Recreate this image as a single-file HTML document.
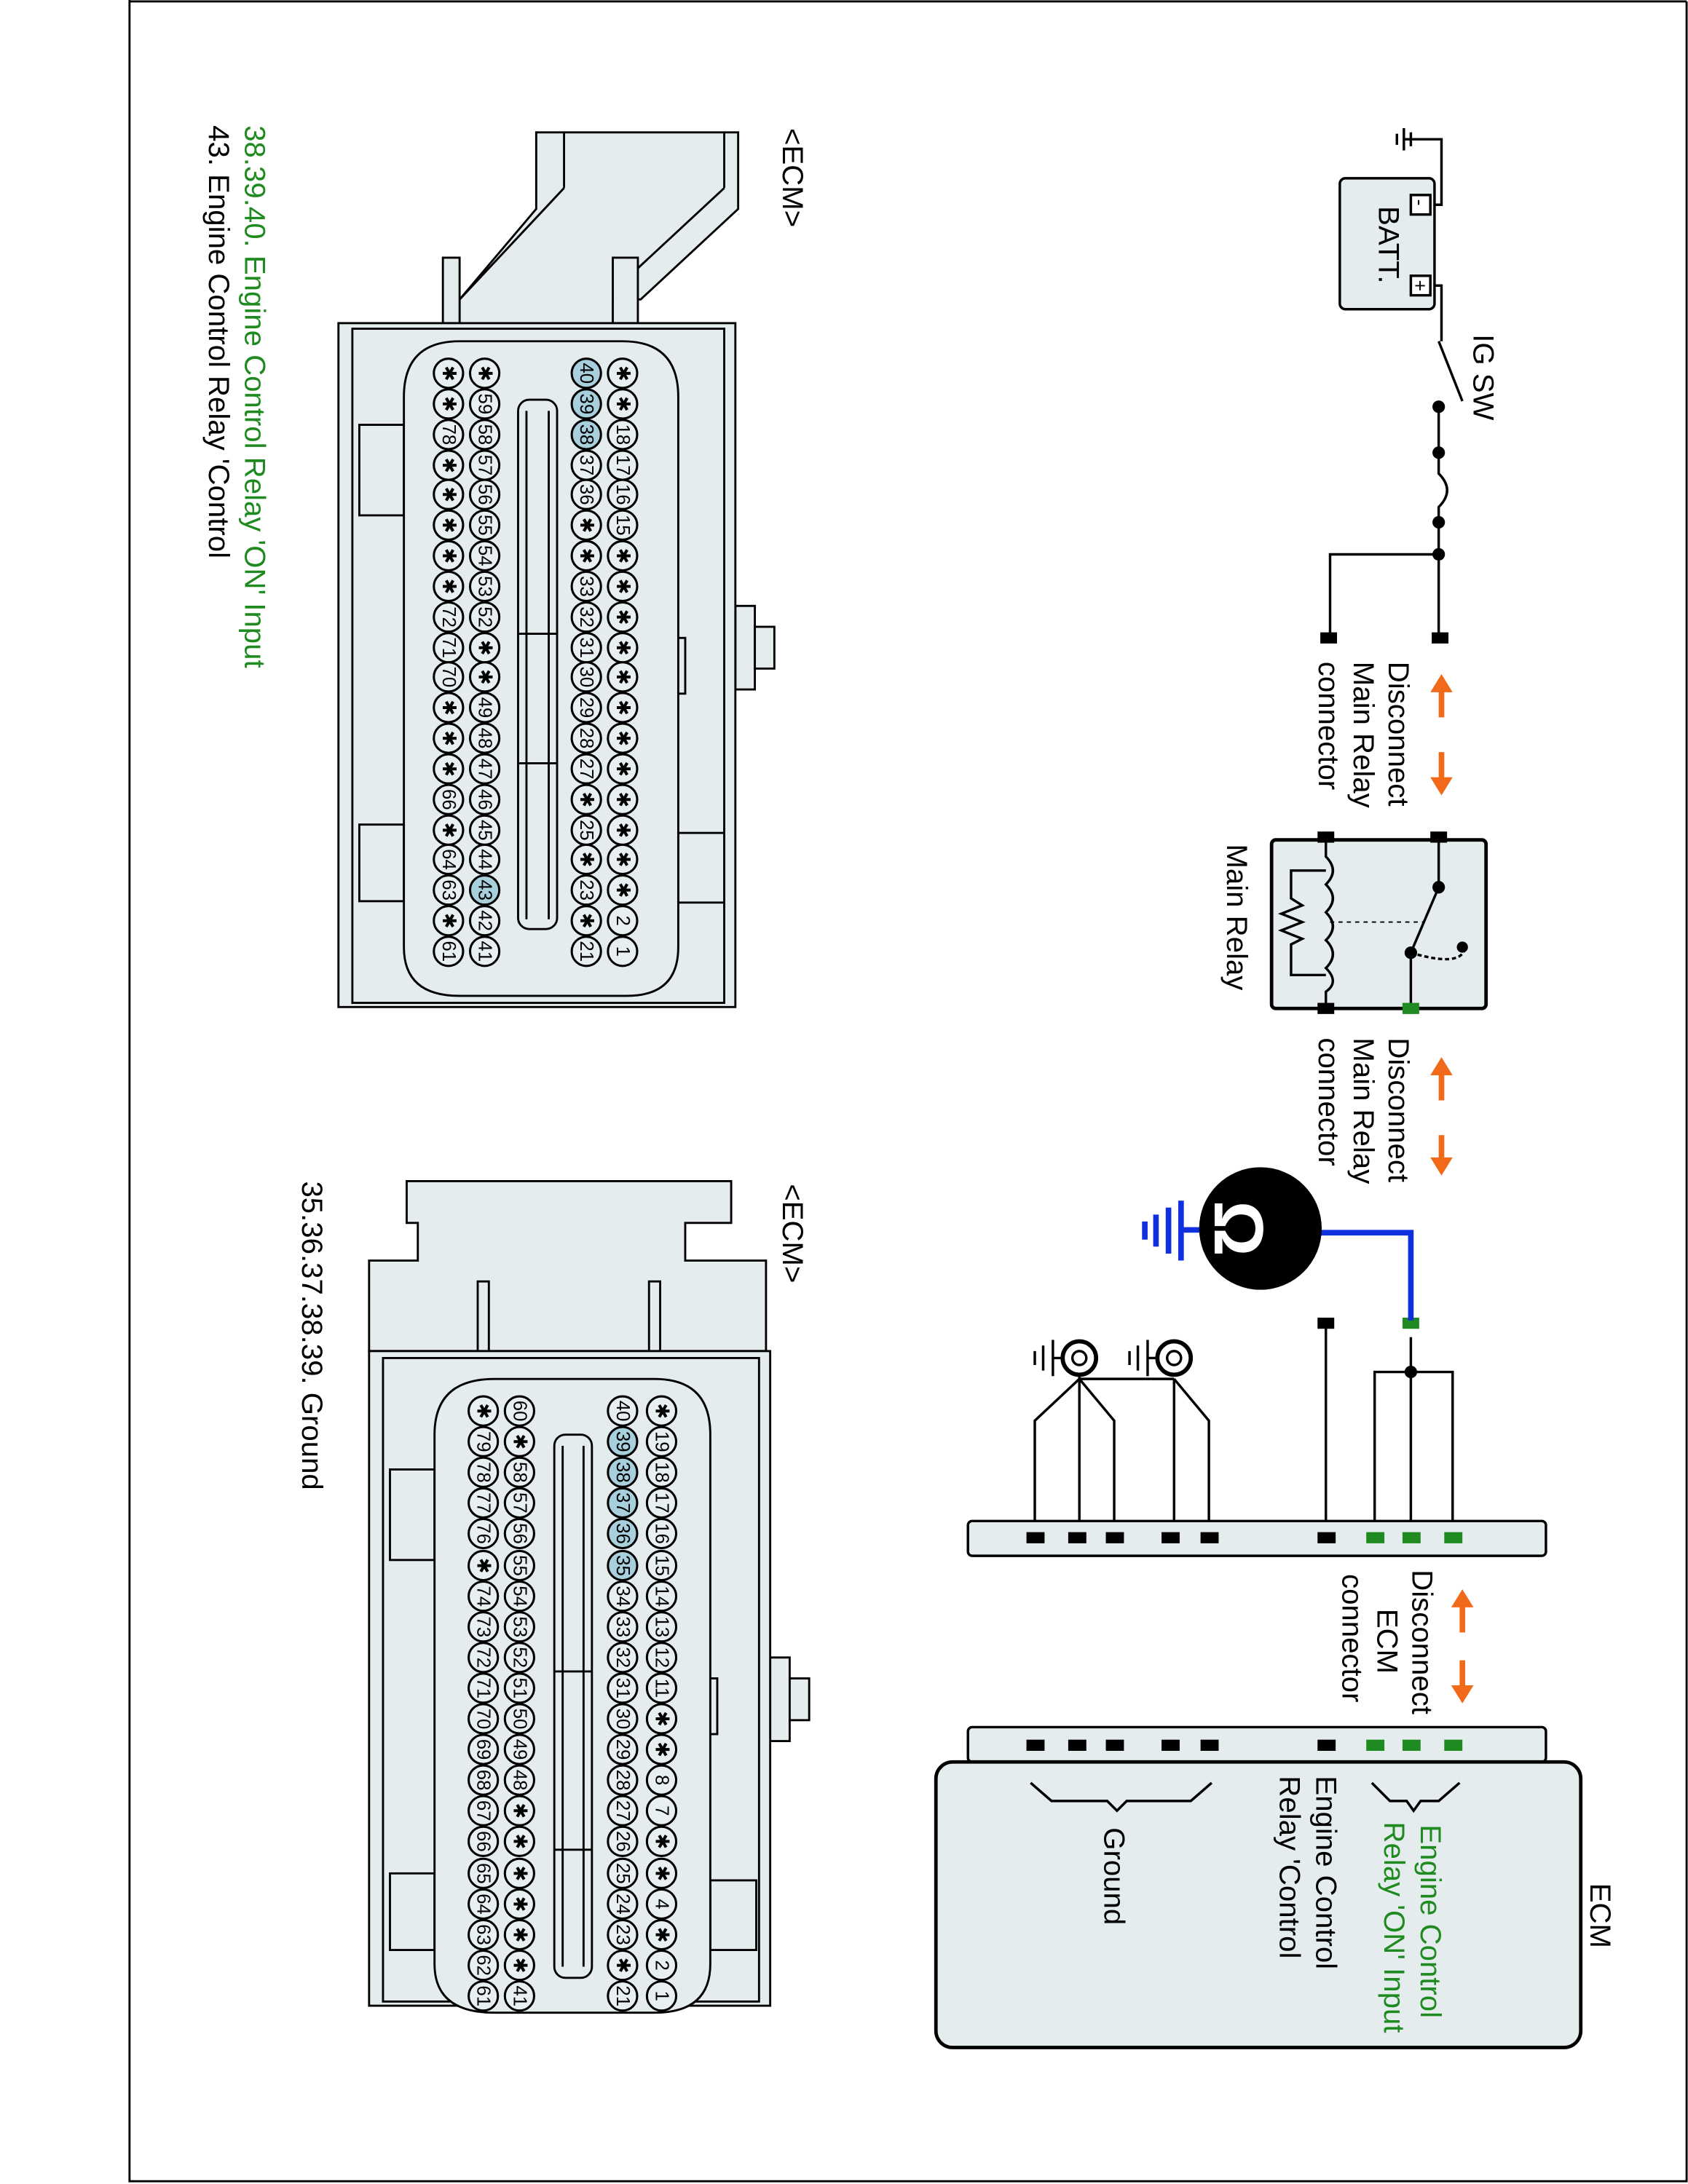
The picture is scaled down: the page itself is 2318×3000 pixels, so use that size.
<!DOCTYPE html>
<html><head><meta charset="utf-8"><style>
html,body{margin:0;padding:0;background:#fff}
svg{display:block}
text{font-family:"Liberation Sans",Arial,sans-serif}
.p circle{fill:#e8eff1;stroke:#000;stroke-width:1.6}
.p circle.h{fill:#a8d0dc}
.p text{font-size:13.5px;text-anchor:middle;dominant-baseline:central}
.l{font-size:21px}
.g{fill:#1f8a1f}
</style></head><body>
<svg width="2318" height="3000" viewBox="0 0 1212 1568" preserveAspectRatio="none" xmlns="http://www.w3.org/2000/svg">
<rect x="0" y="0" width="1212" height="1568" fill="#fff"/>
<path d="M93 0V1566H1211V1" fill="none" stroke="#000" stroke-width="1.5"/>
<line x1="93" y1="1" x2="1211" y2="1" stroke="#000" stroke-width="1.5"/>

<g stroke="#000" stroke-width="1.5" fill="#e4ecee">
 <polygon points="385,95 530,95 530,150 460,215 440,215 440,232 330,232 330,215 385,150"/>
 <line x1="405" y1="95" x2="405" y2="135"/><line x1="520" y1="95" x2="520" y2="135"/>
 <line x1="405" y1="135" x2="330" y2="215" fill="none"/><line x1="520" y1="135" x2="450" y2="200"/>
 <rect x="318" y="185" width="12" height="47"/><rect x="440" y="185" width="18" height="47"/>
 <rect x="528" y="435" width="14" height="60"/><rect x="542" y="450" width="14" height="30"/>
 <rect x="243" y="232" width="285" height="491"/>
 <rect x="253" y="236" width="267" height="484" fill="none"/>
 <rect x="258" y="305" width="32" height="65"/><rect x="258" y="592" width="32" height="55"/>
 <rect x="487" y="598" width="33" height="50"/><rect x="480" y="458" width="12" height="40"/>
 <path d="M290 285 Q290 245 330 245 H447 Q487 245 487 285 V680 Q487 715 450 715 H330 Q290 715 290 680 Z"/>
 <rect x="372" y="287" width="28" height="380" rx="8"/>
 <line x1="372" y1="455" x2="400" y2="455"/><line x1="372" y1="548" x2="400" y2="548"/>
 <line x1="378" y1="295" x2="378" y2="660" fill="none"/><line x1="394" y1="295" x2="394" y2="660"/>
</g>
<g class="p">
 <g transform="translate(447,0)">
  <circle cy="268" r="10.5"/><text transform="translate(0,268) rotate(90)">✱</text>
  <circle cy="290" r="10.5"/><text transform="translate(0,290) rotate(90)">✱</text>
  <circle cy="312" r="10.5"/><text transform="translate(0,312) rotate(90)">18</text>
  <circle cy="334" r="10.5"/><text transform="translate(0,334) rotate(90)">17</text>
  <circle cy="355" r="10.5"/><text transform="translate(0,355) rotate(90)">16</text>
  <circle cy="377" r="10.5"/><text transform="translate(0,377) rotate(90)">15</text>
  <circle cy="399" r="10.5"/><text transform="translate(0,399) rotate(90)">✱</text>
  <circle cy="421" r="10.5"/><text transform="translate(0,421) rotate(90)">✱</text>
  <circle cy="443" r="10.5"/><text transform="translate(0,443) rotate(90)">✱</text>
  <circle cy="465" r="10.5"/><text transform="translate(0,465) rotate(90)">✱</text>
  <circle cy="486" r="10.5"/><text transform="translate(0,486) rotate(90)">✱</text>
  <circle cy="508" r="10.5"/><text transform="translate(0,508) rotate(90)">✱</text>
  <circle cy="530" r="10.5"/><text transform="translate(0,530) rotate(90)">✱</text>
  <circle cy="552" r="10.5"/><text transform="translate(0,552) rotate(90)">✱</text>
  <circle cy="574" r="10.5"/><text transform="translate(0,574) rotate(90)">✱</text>
  <circle cy="596" r="10.5"/><text transform="translate(0,596) rotate(90)">✱</text>
  <circle cy="617" r="10.5"/><text transform="translate(0,617) rotate(90)">✱</text>
  <circle cy="639" r="10.5"/><text transform="translate(0,639) rotate(90)">✱</text>
  <circle cy="661" r="10.5"/><text transform="translate(0,661) rotate(90)">2</text>
  <circle cy="683" r="10.5"/><text transform="translate(0,683) rotate(90)">1</text>
 </g>
 <g transform="translate(421,0)">
  <circle class="h" cy="268" r="10.5"/><text transform="translate(0,268) rotate(90)">40</text>
  <circle class="h" cy="290" r="10.5"/><text transform="translate(0,290) rotate(90)">39</text>
  <circle class="h" cy="312" r="10.5"/><text transform="translate(0,312) rotate(90)">38</text>
  <circle cy="334" r="10.5"/><text transform="translate(0,334) rotate(90)">37</text>
  <circle cy="355" r="10.5"/><text transform="translate(0,355) rotate(90)">36</text>
  <circle cy="377" r="10.5"/><text transform="translate(0,377) rotate(90)">✱</text>
  <circle cy="399" r="10.5"/><text transform="translate(0,399) rotate(90)">✱</text>
  <circle cy="421" r="10.5"/><text transform="translate(0,421) rotate(90)">33</text>
  <circle cy="443" r="10.5"/><text transform="translate(0,443) rotate(90)">32</text>
  <circle cy="465" r="10.5"/><text transform="translate(0,465) rotate(90)">31</text>
  <circle cy="486" r="10.5"/><text transform="translate(0,486) rotate(90)">30</text>
  <circle cy="508" r="10.5"/><text transform="translate(0,508) rotate(90)">29</text>
  <circle cy="530" r="10.5"/><text transform="translate(0,530) rotate(90)">28</text>
  <circle cy="552" r="10.5"/><text transform="translate(0,552) rotate(90)">27</text>
  <circle cy="574" r="10.5"/><text transform="translate(0,574) rotate(90)">✱</text>
  <circle cy="596" r="10.5"/><text transform="translate(0,596) rotate(90)">25</text>
  <circle cy="617" r="10.5"/><text transform="translate(0,617) rotate(90)">✱</text>
  <circle cy="639" r="10.5"/><text transform="translate(0,639) rotate(90)">23</text>
  <circle cy="661" r="10.5"/><text transform="translate(0,661) rotate(90)">✱</text>
  <circle cy="683" r="10.5"/><text transform="translate(0,683) rotate(90)">21</text>
 </g>
 <g transform="translate(348,0)">
  <circle cy="268" r="10.5"/><text transform="translate(0,268) rotate(90)">✱</text>
  <circle cy="290" r="10.5"/><text transform="translate(0,290) rotate(90)">59</text>
  <circle cy="312" r="10.5"/><text transform="translate(0,312) rotate(90)">58</text>
  <circle cy="334" r="10.5"/><text transform="translate(0,334) rotate(90)">57</text>
  <circle cy="355" r="10.5"/><text transform="translate(0,355) rotate(90)">56</text>
  <circle cy="377" r="10.5"/><text transform="translate(0,377) rotate(90)">55</text>
  <circle cy="399" r="10.5"/><text transform="translate(0,399) rotate(90)">54</text>
  <circle cy="421" r="10.5"/><text transform="translate(0,421) rotate(90)">53</text>
  <circle cy="443" r="10.5"/><text transform="translate(0,443) rotate(90)">52</text>
  <circle cy="465" r="10.5"/><text transform="translate(0,465) rotate(90)">✱</text>
  <circle cy="486" r="10.5"/><text transform="translate(0,486) rotate(90)">✱</text>
  <circle cy="508" r="10.5"/><text transform="translate(0,508) rotate(90)">49</text>
  <circle cy="530" r="10.5"/><text transform="translate(0,530) rotate(90)">48</text>
  <circle cy="552" r="10.5"/><text transform="translate(0,552) rotate(90)">47</text>
  <circle cy="574" r="10.5"/><text transform="translate(0,574) rotate(90)">46</text>
  <circle cy="596" r="10.5"/><text transform="translate(0,596) rotate(90)">45</text>
  <circle cy="617" r="10.5"/><text transform="translate(0,617) rotate(90)">44</text>
  <circle class="h" cy="639" r="10.5"/><text transform="translate(0,639) rotate(90)">43</text>
  <circle cy="661" r="10.5"/><text transform="translate(0,661) rotate(90)">42</text>
  <circle cy="683" r="10.5"/><text transform="translate(0,683) rotate(90)">41</text>
 </g>
 <g transform="translate(322,0)">
  <circle cy="268" r="10.5"/><text transform="translate(0,268) rotate(90)">✱</text>
  <circle cy="290" r="10.5"/><text transform="translate(0,290) rotate(90)">✱</text>
  <circle cy="312" r="10.5"/><text transform="translate(0,312) rotate(90)">78</text>
  <circle cy="334" r="10.5"/><text transform="translate(0,334) rotate(90)">✱</text>
  <circle cy="355" r="10.5"/><text transform="translate(0,355) rotate(90)">✱</text>
  <circle cy="377" r="10.5"/><text transform="translate(0,377) rotate(90)">✱</text>
  <circle cy="399" r="10.5"/><text transform="translate(0,399) rotate(90)">✱</text>
  <circle cy="421" r="10.5"/><text transform="translate(0,421) rotate(90)">✱</text>
  <circle cy="443" r="10.5"/><text transform="translate(0,443) rotate(90)">72</text>
  <circle cy="465" r="10.5"/><text transform="translate(0,465) rotate(90)">71</text>
  <circle cy="486" r="10.5"/><text transform="translate(0,486) rotate(90)">70</text>
  <circle cy="508" r="10.5"/><text transform="translate(0,508) rotate(90)">✱</text>
  <circle cy="530" r="10.5"/><text transform="translate(0,530) rotate(90)">✱</text>
  <circle cy="552" r="10.5"/><text transform="translate(0,552) rotate(90)">✱</text>
  <circle cy="574" r="10.5"/><text transform="translate(0,574) rotate(90)">66</text>
  <circle cy="596" r="10.5"/><text transform="translate(0,596) rotate(90)">✱</text>
  <circle cy="617" r="10.5"/><text transform="translate(0,617) rotate(90)">64</text>
  <circle cy="639" r="10.5"/><text transform="translate(0,639) rotate(90)">63</text>
  <circle cy="661" r="10.5"/><text transform="translate(0,661) rotate(90)">✱</text>
  <circle cy="683" r="10.5"/><text transform="translate(0,683) rotate(90)">61</text>
 </g>
</g>

<g stroke="#000" stroke-width="1.5" fill="#e4ecee">
 <polygon points="292,848 525,848 525,878 492,878 492,905 550,905 550,970 265,970 265,905 300,905 300,878 292,878"/>
 <rect x="343" y="920" width="8" height="50"/><rect x="466" y="920" width="8" height="50"/>
 <rect x="553" y="1190" width="14" height="60"/><rect x="567" y="1205" width="14" height="30"/>
 <rect x="265" y="970" width="288" height="470"/>
 <rect x="275" y="975" width="270" height="462" fill="none"/>
 <rect x="280" y="1055" width="32" height="65"/><rect x="280" y="1345" width="32" height="55"/>
 <rect x="510" y="1350" width="33" height="50"/><rect x="503" y="1205" width="12" height="40"/>
 <path d="M312 1030 Q312 990 355 990 H470 Q510 990 510 1030 V1410 Q510 1445 470 1445 H355 Q312 1445 312 1410 Z"/>
 <rect x="398" y="1030" width="27" height="390" rx="8"/>
 <line x1="398" y1="1200" x2="425" y2="1200"/><line x1="398" y1="1328" x2="425" y2="1328"/>
 <line x1="404" y1="1038" x2="404" y2="1412"/><line x1="419" y1="1038" x2="419" y2="1412"/>
</g>
<g class="p">
 <g transform="translate(475,0)">
  <circle cy="1013" r="10.5"/><text transform="translate(0,1013) rotate(90)">✱</text>
  <circle cy="1035" r="10.5"/><text transform="translate(0,1035) rotate(90)">19</text>
  <circle cy="1057" r="10.5"/><text transform="translate(0,1057) rotate(90)">18</text>
  <circle cy="1079" r="10.5"/><text transform="translate(0,1079) rotate(90)">17</text>
  <circle cy="1101" r="10.5"/><text transform="translate(0,1101) rotate(90)">16</text>
  <circle cy="1124" r="10.5"/><text transform="translate(0,1124) rotate(90)">15</text>
  <circle cy="1146" r="10.5"/><text transform="translate(0,1146) rotate(90)">14</text>
  <circle cy="1168" r="10.5"/><text transform="translate(0,1168) rotate(90)">13</text>
  <circle cy="1190" r="10.5"/><text transform="translate(0,1190) rotate(90)">12</text>
  <circle cy="1212" r="10.5"/><text transform="translate(0,1212) rotate(90)">11</text>
  <circle cy="1234" r="10.5"/><text transform="translate(0,1234) rotate(90)">✱</text>
  <circle cy="1256" r="10.5"/><text transform="translate(0,1256) rotate(90)">✱</text>
  <circle cy="1278" r="10.5"/><text transform="translate(0,1278) rotate(90)">8</text>
  <circle cy="1300" r="10.5"/><text transform="translate(0,1300) rotate(90)">7</text>
  <circle cy="1322" r="10.5"/><text transform="translate(0,1322) rotate(90)">✱</text>
  <circle cy="1345" r="10.5"/><text transform="translate(0,1345) rotate(90)">✱</text>
  <circle cy="1367" r="10.5"/><text transform="translate(0,1367) rotate(90)">4</text>
  <circle cy="1389" r="10.5"/><text transform="translate(0,1389) rotate(90)">✱</text>
  <circle cy="1411" r="10.5"/><text transform="translate(0,1411) rotate(90)">2</text>
  <circle cy="1433" r="10.5"/><text transform="translate(0,1433) rotate(90)">1</text>
 </g>
 <g transform="translate(447,0)">
  <circle cy="1013" r="10.5"/><text transform="translate(0,1013) rotate(90)">40</text>
  <circle class="h" cy="1035" r="10.5"/><text transform="translate(0,1035) rotate(90)">39</text>
  <circle class="h" cy="1057" r="10.5"/><text transform="translate(0,1057) rotate(90)">38</text>
  <circle class="h" cy="1079" r="10.5"/><text transform="translate(0,1079) rotate(90)">37</text>
  <circle class="h" cy="1101" r="10.5"/><text transform="translate(0,1101) rotate(90)">36</text>
  <circle class="h" cy="1124" r="10.5"/><text transform="translate(0,1124) rotate(90)">35</text>
  <circle cy="1146" r="10.5"/><text transform="translate(0,1146) rotate(90)">34</text>
  <circle cy="1168" r="10.5"/><text transform="translate(0,1168) rotate(90)">33</text>
  <circle cy="1190" r="10.5"/><text transform="translate(0,1190) rotate(90)">32</text>
  <circle cy="1212" r="10.5"/><text transform="translate(0,1212) rotate(90)">31</text>
  <circle cy="1234" r="10.5"/><text transform="translate(0,1234) rotate(90)">30</text>
  <circle cy="1256" r="10.5"/><text transform="translate(0,1256) rotate(90)">29</text>
  <circle cy="1278" r="10.5"/><text transform="translate(0,1278) rotate(90)">28</text>
  <circle cy="1300" r="10.5"/><text transform="translate(0,1300) rotate(90)">27</text>
  <circle cy="1322" r="10.5"/><text transform="translate(0,1322) rotate(90)">26</text>
  <circle cy="1345" r="10.5"/><text transform="translate(0,1345) rotate(90)">25</text>
  <circle cy="1367" r="10.5"/><text transform="translate(0,1367) rotate(90)">24</text>
  <circle cy="1389" r="10.5"/><text transform="translate(0,1389) rotate(90)">23</text>
  <circle cy="1411" r="10.5"/><text transform="translate(0,1411) rotate(90)">✱</text>
  <circle cy="1433" r="10.5"/><text transform="translate(0,1433) rotate(90)">21</text>
 </g>
 <g transform="translate(373,0)">
  <circle cy="1013" r="10.5"/><text transform="translate(0,1013) rotate(90)">60</text>
  <circle cy="1035" r="10.5"/><text transform="translate(0,1035) rotate(90)">✱</text>
  <circle cy="1057" r="10.5"/><text transform="translate(0,1057) rotate(90)">58</text>
  <circle cy="1079" r="10.5"/><text transform="translate(0,1079) rotate(90)">57</text>
  <circle cy="1101" r="10.5"/><text transform="translate(0,1101) rotate(90)">56</text>
  <circle cy="1124" r="10.5"/><text transform="translate(0,1124) rotate(90)">55</text>
  <circle cy="1146" r="10.5"/><text transform="translate(0,1146) rotate(90)">54</text>
  <circle cy="1168" r="10.5"/><text transform="translate(0,1168) rotate(90)">53</text>
  <circle cy="1190" r="10.5"/><text transform="translate(0,1190) rotate(90)">52</text>
  <circle cy="1212" r="10.5"/><text transform="translate(0,1212) rotate(90)">51</text>
  <circle cy="1234" r="10.5"/><text transform="translate(0,1234) rotate(90)">50</text>
  <circle cy="1256" r="10.5"/><text transform="translate(0,1256) rotate(90)">49</text>
  <circle cy="1278" r="10.5"/><text transform="translate(0,1278) rotate(90)">48</text>
  <circle cy="1300" r="10.5"/><text transform="translate(0,1300) rotate(90)">✱</text>
  <circle cy="1322" r="10.5"/><text transform="translate(0,1322) rotate(90)">✱</text>
  <circle cy="1345" r="10.5"/><text transform="translate(0,1345) rotate(90)">✱</text>
  <circle cy="1367" r="10.5"/><text transform="translate(0,1367) rotate(90)">✱</text>
  <circle cy="1389" r="10.5"/><text transform="translate(0,1389) rotate(90)">✱</text>
  <circle cy="1411" r="10.5"/><text transform="translate(0,1411) rotate(90)">✱</text>
  <circle cy="1433" r="10.5"/><text transform="translate(0,1433) rotate(90)">41</text>
 </g>
 <g transform="translate(347,0)">
  <circle cy="1013" r="10.5"/><text transform="translate(0,1013) rotate(90)">✱</text>
  <circle cy="1035" r="10.5"/><text transform="translate(0,1035) rotate(90)">79</text>
  <circle cy="1057" r="10.5"/><text transform="translate(0,1057) rotate(90)">78</text>
  <circle cy="1079" r="10.5"/><text transform="translate(0,1079) rotate(90)">77</text>
  <circle cy="1101" r="10.5"/><text transform="translate(0,1101) rotate(90)">76</text>
  <circle cy="1124" r="10.5"/><text transform="translate(0,1124) rotate(90)">✱</text>
  <circle cy="1146" r="10.5"/><text transform="translate(0,1146) rotate(90)">74</text>
  <circle cy="1168" r="10.5"/><text transform="translate(0,1168) rotate(90)">73</text>
  <circle cy="1190" r="10.5"/><text transform="translate(0,1190) rotate(90)">72</text>
  <circle cy="1212" r="10.5"/><text transform="translate(0,1212) rotate(90)">71</text>
  <circle cy="1234" r="10.5"/><text transform="translate(0,1234) rotate(90)">70</text>
  <circle cy="1256" r="10.5"/><text transform="translate(0,1256) rotate(90)">69</text>
  <circle cy="1278" r="10.5"/><text transform="translate(0,1278) rotate(90)">68</text>
  <circle cy="1300" r="10.5"/><text transform="translate(0,1300) rotate(90)">67</text>
  <circle cy="1322" r="10.5"/><text transform="translate(0,1322) rotate(90)">66</text>
  <circle cy="1345" r="10.5"/><text transform="translate(0,1345) rotate(90)">65</text>
  <circle cy="1367" r="10.5"/><text transform="translate(0,1367) rotate(90)">64</text>
  <circle cy="1389" r="10.5"/><text transform="translate(0,1389) rotate(90)">63</text>
  <circle cy="1411" r="10.5"/><text transform="translate(0,1411) rotate(90)">62</text>
  <circle cy="1433" r="10.5"/><text transform="translate(0,1433) rotate(90)">61</text>
 </g>
</g>

<text class="l" transform="translate(562,92) rotate(90)">&lt;ECM&gt;</text>
<text class="l" transform="translate(562,850) rotate(90)">&lt;ECM&gt;</text>
<text class="l g" transform="translate(176,90) rotate(90)">38.39.40. Engine Control Relay 'ON' Input</text>
<text class="l" transform="translate(150,90) rotate(90)">43. Engine Control Relay 'Control</text>
<text class="l" transform="translate(217,848) rotate(90)">35.36.37.38.39. Ground</text>

<g stroke="#000" stroke-width="1.8" fill="none">
 <line x1="1008" y1="92" x2="1008" y2="108"/><line x1="1013" y1="95" x2="1013" y2="105"/><line x1="1003" y1="96" x2="1003" y2="104"/>
 <path d="M1008 100 H1035 V147 H1030"/>
 <rect x="962" y="128" width="68" height="94" rx="4" fill="#e4ecee"/>
 <rect x="1013" y="140" width="14" height="14" fill="#fff"/><rect x="1013" y="198" width="14" height="14" fill="#fff"/>
 <path d="M1030 205 H1035 V245"/>
 <line x1="1033" y1="245" x2="1050" y2="288"/>
 <path d="M1033 292 V340 Q1045 352 1033 364 V458"/>
 <path d="M1033 398 H955 V458"/>
 <rect x="913" y="603" width="154" height="121" rx="3" fill="#e4ecee" stroke-width="2.5"/>
 <path d="M1033 603 V637 L1013 684 V724"/>
 <path d="M1013 684 Q1050 695 1052 680" stroke-dasharray="3,2"/>
 <path d="M952 603 V615 Q962 625 952 635 Q962 645 952 655 Q962 665 952 675 Q962 685 952 695 Q962 705 952 712 V724"/>
 <path d="M952 625 H927 V645 L935 650 L920 656 L935 662 L920 668 L935 674 L927 678 V700 H952"/>
 <line x1="955" y1="662" x2="1022" y2="662" stroke-dasharray="3,3" stroke-width="1"/>
 <path d="M952 950 V1103"/>
 <path d="M1013 960 V985 M987 1103 V985 H1043 V1103 M1013 985 V1103" />
 <circle cx="775" cy="975" r="12" stroke-width="3"/><circle cx="775" cy="975" r="5"/>
 <circle cx="843" cy="975" r="12" stroke-width="3"/><circle cx="843" cy="975" r="5"/>
 <path d="M763 975 H756 M756 962 V988 M749 966 V984 M743 970 V980"/>
 <path d="M831 975 H824 M824 962 V988 M817 966 V984 M811 970 V980"/>
 <path d="M775 988 V990 H843"/>
 <path d="M775 990 L743 1020 V1103 M775 990 V1103 M775 990 L800 1020 V1103"/>
 <path d="M843 990 V1103 M843 990 L868 1020 V1103"/>
 <rect x="695" y="1092" width="415" height="25" rx="3" fill="#e4ecee"/>
 <rect x="695" y="1240" width="415" height="25" rx="3" fill="#e4ecee"/>
 <rect x="672" y="1265" width="463" height="205" rx="12" fill="#e4ecee" stroke-width="2.5"/>
 <path d="M985 1280 L998 1293 H1010 L1015 1300 L1020 1293 H1033 L1048 1280"/>
 <path d="M740 1280 L755 1293 H795 L802 1300 L809 1293 H855 L870 1280"/>
</g>
<g fill="#000">
 <circle cx="1033" cy="292" r="4.5"/><circle cx="1033" cy="325" r="4.5"/><circle cx="1033" cy="375" r="4.5"/><circle cx="1033" cy="398" r="4.5"/>
 <circle cx="1033" cy="637" r="4.5"/><circle cx="1013" cy="684" r="4.5"/><circle cx="1050" cy="680" r="4"/>
 <circle cx="1013" cy="985" r="4.5"/>
 <rect x="948" y="454" width="12" height="8"/><rect x="1028" y="454" width="12" height="8"/>
 <rect x="946" y="597" width="12" height="8"/><rect x="1027" y="597" width="12" height="8"/>
 <rect x="946" y="720" width="12" height="8"/>
 <rect x="946" y="946" width="12" height="8"/>
 <rect x="737" y="1100" width="13" height="8"/><rect x="767" y="1100" width="13" height="8"/><rect x="794" y="1100" width="13" height="8"/><rect x="834" y="1100" width="13" height="8"/><rect x="862" y="1100" width="13" height="8"/><rect x="946" y="1100" width="13" height="8"/>
 <rect x="737" y="1249" width="13" height="8"/><rect x="767" y="1249" width="13" height="8"/><rect x="794" y="1249" width="13" height="8"/><rect x="834" y="1249" width="13" height="8"/><rect x="862" y="1249" width="13" height="8"/><rect x="946" y="1249" width="13" height="8"/>
</g>
<g fill="#1f8a1f">
 <rect x="1007" y="720" width="12" height="8"/><rect x="1007" y="946" width="12" height="8"/>
 <rect x="981" y="1100" width="13" height="8"/><rect x="1007" y="1100" width="13" height="8"/><rect x="1037" y="1100" width="13" height="8"/>
 <rect x="981" y="1249" width="13" height="8"/><rect x="1007" y="1249" width="13" height="8"/><rect x="1037" y="1249" width="13" height="8"/>
</g>
<g stroke="#1030e0" stroke-width="4" fill="none">
 <path d="M945 885 H1013 V948"/>
 <path d="M862 883 H848 M848 862 V905 M839 867 V900 M830 872 V895 M822 877 V890"/>
</g>
<circle cx="905" cy="882" r="44" fill="#000"/>
<text transform="translate(889,882) rotate(90)" fill="#fff" font-size="50" font-weight="bold" text-anchor="middle" dominant-baseline="central" style="font-family:'Liberation Sans','DejaVu Sans',sans-serif">Ω</text>

<g stroke="#f06a1a" stroke-width="4" fill="#f06a1a">
 <line x1="1035" y1="495" x2="1035" y2="515"/><line x1="1035" y1="540" x2="1035" y2="560"/>
 <polygon points="1027,497 1043,497 1035,484" stroke="none"/><polygon points="1027,558 1043,558 1035,571" stroke="none"/>
 <line x1="1035" y1="770" x2="1035" y2="790"/><line x1="1035" y1="815" x2="1035" y2="833"/>
 <polygon points="1027,772 1043,772 1035,759" stroke="none"/><polygon points="1027,831 1043,831 1035,844" stroke="none"/>
 <line x1="1050" y1="1152" x2="1050" y2="1172"/><line x1="1050" y1="1192" x2="1050" y2="1212"/>
 <polygon points="1042,1154 1058,1154 1050,1141" stroke="none"/><polygon points="1042,1210 1058,1210 1050,1223" stroke="none"/>
</g>

<text class="l" transform="translate(990,148) rotate(90)" font-size="20">BATT.</text>
<text transform="translate(1015,143) rotate(90)" font-size="14">-</text>
<text transform="translate(1015,201) rotate(90)" font-size="14">+</text>
<text class="l" transform="translate(1058,240) rotate(90)">IG SW</text>
<text class="l" transform="translate(997,475) rotate(90)">Disconnect</text>
<text class="l" transform="translate(972,475) rotate(90)">Main Relay</text>
<text class="l" transform="translate(947,475) rotate(90)">connector</text>
<text class="l" transform="translate(881,606) rotate(90)">Main Relay</text>
<text class="l" transform="translate(997,745) rotate(90)">Disconnect</text>
<text class="l" transform="translate(972,745) rotate(90)">Main Relay</text>
<text class="l" transform="translate(947,745) rotate(90)">connector</text>
<text class="l" transform="translate(1014,1127) rotate(90)">Disconnect</text>
<text class="l" transform="translate(989,1155) rotate(90)">ECM</text>
<text class="l" transform="translate(964,1130) rotate(90)">connector</text>
<text class="l" transform="translate(1142,1352) rotate(90)">ECM</text>
<text class="l g" transform="translate(1020,1310) rotate(90)">Engine Control</text>
<text class="l g" transform="translate(994,1308) rotate(90)">Relay 'ON' Input</text>
<text class="l" transform="translate(945,1275) rotate(90)">Engine Control</text>
<text class="l" transform="translate(919,1275) rotate(90)">Relay 'Control</text>
<text class="l" transform="translate(793,1312) rotate(90)">Ground</text>
</svg>
</body></html>
